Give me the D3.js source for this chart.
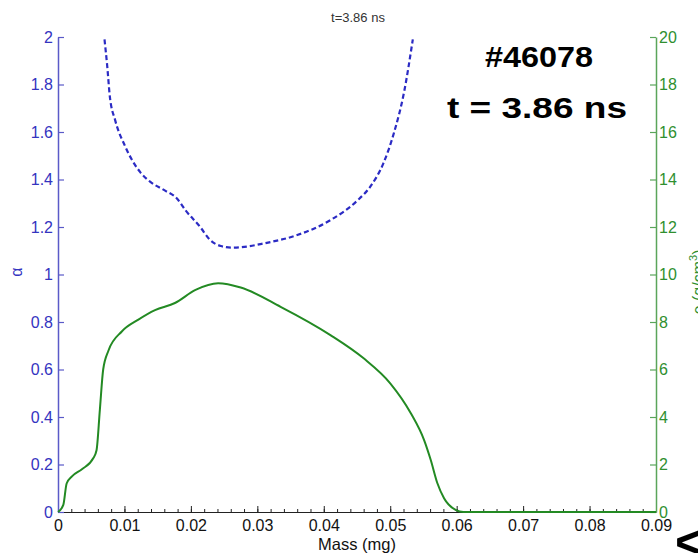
<!DOCTYPE html>
<html lang="en">
<head>
  <meta charset="UTF-8" />
  <title>t=3.86 ns</title>
  <script src="https://d3js.org/d3.v7.min.js"></script>
  <style>
    html, body { margin: 0; padding: 0; background: #fff; }
    svg { display: block; font-family: "Liberation Sans", Arial, sans-serif; }
  </style>
</head>
<body>
<svg width="698" height="553"></svg>
<script>
  // alpha (left axis, dashed blue)
  const alphaMass = [0.0070, 0.0074, 0.0078, 0.0086, 0.0101, 0.0124, 0.0139, 0.0160, 0.0179, 0.0192,
                     0.0214, 0.0229, 0.0245, 0.0262, 0.0285, 0.0310, 0.0360, 0.0410, 0.0450, 0.0470,
                     0.0490, 0.0506, 0.0521, 0.0534];
  const alphaVals = [1.99, 1.88, 1.75, 1.65, 1.54, 1.43, 1.39, 1.355, 1.32, 1.27,
                     1.20, 1.145, 1.12, 1.113, 1.118, 1.131, 1.166, 1.229, 1.31, 1.37,
                     1.47, 1.60, 1.77, 1.99];

  // density rho (right axis, green)
  const rhoMass = [0, 0.0008, 0.0013, 0.0021, 0.0036, 0.0053, 0.0058, 0.0063, 0.0068, 0.0076,
                   0.0096, 0.0121, 0.0146, 0.0176, 0.0207, 0.0241, 0.0275, 0.0335, 0.0410, 0.0460,
                   0.0500, 0.0531, 0.0551, 0.0561, 0.0571, 0.0581, 0.0599, 0.0610, 0.0900];
  const rhoVals = [0, 0.3, 1.2, 1.5, 1.8, 2.26, 2.6, 4.3, 6.0, 6.8,
                   7.6, 8.1, 8.5, 8.8, 9.35, 9.63, 9.45, 8.64, 7.45, 6.47,
                   5.42, 4.16, 3.03, 2.19, 1.21, 0.58, 0.08, 0, 0];

  const xTicks = [0, 0.01, 0.02, 0.03, 0.04, 0.05, 0.06, 0.07, 0.08, 0.09];
  const alphaTicks = [0, 0.2, 0.4, 0.6, 0.8, 1, 1.2, 1.4, 1.6, 1.8, 2];
  const rhoTicks = [0, 2, 4, 6, 8, 10, 12, 14, 16, 18, 20];

  const blue = "#3434bf", blueAxis = "#5a5ac8", green = "#2f8f2f", greenAxis = "#5aa55a";
  const font = "Liberation Sans, Arial, sans-serif";

  const svg = d3.select("svg");
  const m = { left: 58, right: 656, top: 37, bottom: 512 };

  const x = d3.scaleLinear().domain([0, 0.09]).range([m.left, m.right]);
  const yA = d3.scaleLinear().domain([0, 2]).range([m.bottom, m.top]);
  const yR = d3.scaleLinear().domain([0, 20]).range([m.bottom, m.top]);

  // bottom axis with minor ticks
  const minor = d3.range(0, 0.0901, 0.002);
  svg.append("g").attr("transform", `translate(0,${m.bottom})`)
    .call(d3.axisBottom(x).tickValues(minor).tickSize(-3).tickFormat(""))
    .call(g => g.select(".domain").remove())
    .selectAll("line").attr("stroke", "#222");
  const xg = svg.append("g").attr("transform", `translate(0,${m.bottom})`)
    .call(d3.axisBottom(x).tickValues(xTicks).tickSize(-6).tickSizeOuter(0)
      .tickFormat(d => d === 0 ? "0" : d3.format(".2f")(d)));
  xg.attr("font-size", 16).attr("font-family", font);
  xg.select(".domain").attr("stroke", "#222");
  xg.selectAll("line").attr("stroke", "#222");
  xg.selectAll("text").attr("fill", "#111").attr("y", 8).attr("dy", "0.71em");

  // left axis (alpha)
  const ag = svg.append("g").attr("transform", `translate(${m.left},0)`)
    .call(d3.axisLeft(yA).tickValues(alphaTicks).tickSize(-6).tickSizeOuter(0).tickFormat(d3.format("")));
  ag.attr("font-size", 16).attr("font-family", font);
  ag.select(".domain").attr("stroke", blueAxis).attr("stroke-width", 1.5);
  ag.selectAll("line").attr("stroke", blueAxis).attr("stroke-width", 1.2);
  ag.selectAll("text").attr("fill", blue).attr("x", -5);

  // right axis (rho)
  const rg = svg.append("g").attr("transform", `translate(${m.right},0)`)
    .call(d3.axisRight(yR).tickValues(rhoTicks).tickSize(-6).tickSizeOuter(0));
  rg.attr("font-size", 16).attr("font-family", font);
  rg.select(".domain").attr("stroke", greenAxis).attr("stroke-width", 1.5);
  rg.selectAll("line").attr("stroke", greenAxis).attr("stroke-width", 1.2);
  rg.selectAll("text").attr("fill", green).attr("x", 3);

  // curves
  const alphaData = alphaMass.map((v, i) => [v, alphaVals[i]]);
  const rhoData = rhoMass.map((v, i) => [v, rhoVals[i]]);

  svg.append("path").datum(rhoData)
    .attr("fill", "none").attr("stroke", "#238a23").attr("stroke-width", 2)
    .attr("d", d3.line().x(d => x(d[0])).y(d => yR(d[1])).curve(d3.curveMonotoneX));

  svg.append("path").datum(alphaData)
    .attr("fill", "none").attr("stroke", "#2b2bc4").attr("stroke-width", 2.2)
    .attr("stroke-dasharray", "5,3")
    .attr("d", d3.line().x(d => x(d[0])).y(d => yA(d[1])).curve(d3.curveMonotoneX));

  // titles and labels
  svg.append("text").attr("x", 358).attr("y", 22).attr("text-anchor", "middle")
    .attr("font-size", 13).attr("fill", "#333").text("t=3.86 ns");

  svg.append("text").attr("x", 357).attr("y", 550).attr("text-anchor", "middle")
    .attr("font-size", 16.5).attr("fill", "#111").text("Mass (mg)");

  svg.append("text").attr("transform", "translate(22,272) rotate(-90)")
    .attr("text-anchor", "middle").attr("font-size", 16).attr("fill", blue).text("α");

  const rl = svg.append("text").attr("transform", "translate(704,282) rotate(-90)")
    .attr("text-anchor", "middle").attr("font-size", 16).attr("fill", green);
  rl.append("tspan").text("ρ (g/cm");
  rl.append("tspan").attr("dy", -7).attr("font-size", 11).text("3");
  rl.append("tspan").attr("dy", 7).text(")");

  svg.append("text").attr("x", 485).attr("y", 67)
    .attr("font-size", 30).attr("font-weight", "bold").attr("fill", "#000")
    .attr("textLength", 108).attr("lengthAdjust", "spacingAndGlyphs").text("#46078");

  svg.append("text").attr("x", 447).attr("y", 118)
    .attr("font-size", 30).attr("font-weight", "bold").attr("fill", "#000")
    .attr("textLength", 180).attr("lengthAdjust", "spacingAndGlyphs").text("t = 3.86 ns");

  svg.append("text").attr("x", 675).attr("y", 559)
    .attr("font-size", 50).attr("font-weight", "bold").attr("fill", "#000").text("<");
</script>
</body>
</html>
